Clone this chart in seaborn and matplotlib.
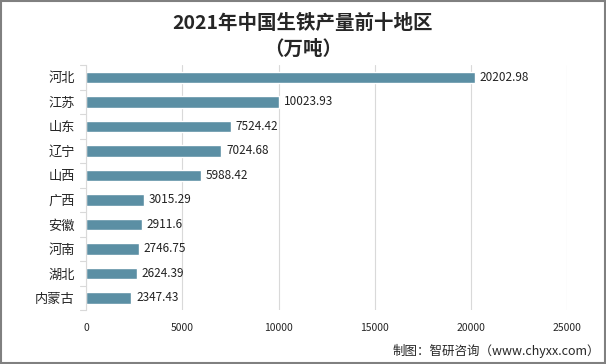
import matplotlib
matplotlib.use('Agg')
import matplotlib.pyplot as plt
import seaborn as sns
import pandas as pd

# data
regions = ['河北', '江苏', '山东', '辽宁', '山西', '广西', '安徽', '河南', '湖北', '内蒙古']
output = [20202.98, 10023.93, 7524.42, 7024.68, 5988.42, 3015.29, 2911.6, 2746.75, 2624.39, 2347.43]
labels = ['20202.98', '10023.93', '7524.42', '7024.68', '5988.42', '3015.29', '2911.6', '2746.75', '2624.39', '2347.43']
xticks = [0, 5000, 10000, 15000, 20000, 25000]

df = pd.DataFrame({'region': regions, 'output': output})

sns.set_style('white')
plt.rcParams['font.family'] = ['Noto Sans CJK SC', 'DejaVu Sans']

fig = plt.figure(figsize=(6.06, 3.64), dpi=100)
ax = fig.add_axes([0.142, 0.148, 0.794, 0.673])

sns.barplot(data=df, y='region', x='output', color='#5B8FA4', saturation=1,
            width=0.46, orient='h', ax=ax)

for i, (v, t) in enumerate(zip(output, labels)):
    ax.text(v + 250, i, t, va='center', ha='left', fontsize=8.5, color='#222222')

ax.set_xlim(0, 25000)
ax.set_xticks(xticks)
ax.set_xticklabels([str(x) for x in xticks], fontsize=7.5)
ax.set_ylim(len(regions) - 0.5, -0.5)
ax.set_xlabel('')
ax.set_ylabel('')
ax.tick_params(axis='y', labelsize=9.5, length=0, pad=8)
ax.tick_params(axis='x', length=0, pad=9)
ax.xaxis.grid(True, color='#d9d9d9', linewidth=0.8)
ax.set_axisbelow(True)
for s in ['top', 'right', 'bottom']:
    ax.spines[s].set_visible(False)
ax.spines['left'].set_color('#d9d9d9')

# small ticks between categories on the left spine
for k in range(len(regions) + 1):
    ax.plot([-0.012, 0], [k - 0.5, k - 0.5], transform=ax.get_yaxis_transform(),
            color='#d9d9d9', linewidth=0.8, clip_on=False)

fig.text(0.5, 0.935, '2021年中国生铁产量前十地区', ha='center', va='center',
         fontsize=14, fontweight='bold')
fig.text(0.5, 0.865, '（万吨）', ha='center', va='center', fontsize=14, fontweight='bold')
fig.text(0.99, 0.035, '制图：智研咨询（www.chyxx.com）', ha='right', va='center', fontsize=9)

# outer border
fig.patches.append(plt.Rectangle((0.002, 0.003), 0.996, 0.994, transform=fig.transFigure,
                                 fill=False, edgecolor='#808080', linewidth=1.5))

fig.savefig('out.png', dpi=100)
